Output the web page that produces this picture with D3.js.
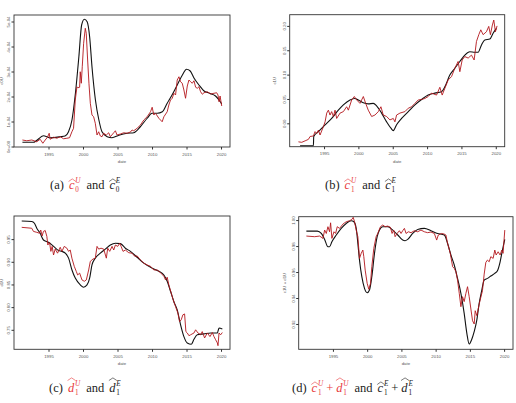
<!DOCTYPE html>
<html>
<head>
<meta charset="UTF-8">
<script src="https://d3js.org/d3.v7.min.js"></script>
<style>
  body { margin: 0; background: #fff; }
  .tick text { font-family: "Liberation Sans", Arial, sans-serif; fill: #555; }
  .lab { font-family: "Liberation Sans", Arial, sans-serif; fill: #555; }
  .cap { font-family: "Liberation Serif", "DejaVu Serif", serif; }
</style>
</head>
<body>
<div id="chart"></div>
<script>
// x axis (years) shared by all four panels
var yearTicks = [1995, 2000, 2005, 2010, 2015, 2020];

// (a) c0 estimates (values in units of 1e-04)
var c0Ticks = [0, 1, 2, 3, 4, 5];
var c0Labels = ["0e+00", "1e-04", "2e-04", "3e-04", "4e-04", "5e-04"];
var c0E = [[1991.22,0.17],[1992.8,0.17],[1994.3,0.43],[1994.8,0.39],[1995.2,0.35],[1996.7,0.39],[1997.4,0.42],[1997.9,0.59],[1998.4,1.06],[1998.9,2.13],[1999.4,3.59],[1999.8,4.86],[2000.2,5.09],[2000.6,4.99],[2000.96,4.39],[2001.3,3.19],[2001.8,1.86],[2002.3,1.06],[2002.75,0.59],[2003.5,0.39],[2004.2,0.35],[2005.2,0.45],[2006.4,0.53],[2007.35,0.55],[2008.3,0.79],[2009.3,1.13],[2010.0,1.33],[2010.75,1.33],[2011.5,1.39],[2012.2,1.73],[2012.9,2.06],[2013.65,2.46],[2014.4,2.86],[2015.0,3.09],[2015.5,3.03],[2016.1,2.73],[2016.8,2.46],[2017.5,2.23],[2018.3,2.13],[2019.2,2.02],[2019.7,1.86],[2020.1,1.70]];
var c0U = [[1991.22,0.26],[1991.85,0.23],[1992.58,0.26],[1993.30,0.19],[1993.79,0.29],[1994.18,0.13],[1994.52,0.26],[1994.85,0.37],[1995.10,0.53],[1995.24,0.29],[1995.73,0.37],[1996.21,0.33],[1996.70,0.39],[1997.18,0.31],[1997.66,0.33],[1998.05,0.35],[1998.39,0.59],[1998.63,0.73],[1998.88,1.86],[1999.12,2.39],[1999.26,2.35],[1999.51,2.37],[1999.60,2.99],[1999.75,2.53],[1999.89,3.19],[2000.09,4.13],[2000.33,4.73],[2000.47,4.53],[2000.67,3.46],[2000.86,2.53],[2001.06,1.73],[2001.30,1.26],[2001.54,1.19],[2001.78,0.93],[2002.03,0.46],[2002.27,0.59],[2002.51,0.42],[2002.75,0.39],[2002.99,0.53],[2003.38,0.46],[2003.72,0.55],[2003.96,0.39],[2004.45,0.55],[2004.69,0.63],[2004.93,0.46],[2005.42,0.50],[2005.90,0.55],[2006.39,0.53],[2006.87,0.58],[2007.11,0.66],[2007.35,0.63],[2007.84,0.73],[2008.32,0.86],[2008.81,1.06],[2009.29,1.19],[2009.78,1.39],[2010.02,1.57],[2010.26,1.26],[2010.50,1.33],[2010.99,1.13],[2011.47,0.99],[2011.72,1.19],[2012.20,1.39],[2012.44,1.66],[2012.68,1.86],[2012.93,1.93],[2013.17,2.13],[2013.41,2.06],[2013.65,2.66],[2013.90,2.79],[2014.14,2.59],[2014.38,2.53],[2014.62,2.26],[2014.86,1.93],[2015.11,2.42],[2015.35,2.66],[2015.59,2.59],[2015.83,2.53],[2016.08,2.63],[2016.32,2.37],[2016.56,2.33],[2016.80,2.39],[2017.04,2.19],[2017.29,2.09],[2017.53,2.15],[2018.01,2.19],[2018.50,2.10],[2018.98,2.13],[2019.37,2.15],[2019.56,2.06],[2019.71,1.79],[2019.86,2.02],[2020.10,1.62]];

// (b) c1 estimates
var c1Ticks = [0.00, 0.05, 0.10, 0.15, 0.20];
var c1Labels = ["0.00", "0.05", "0.10", "0.15", "0.20"];
var c1E = [[1991.51,-0.046],[1993.45,-0.046],[1993.50,-0.027],[1994.18,-0.017],[1995.15,-0.003],[1996.11,0.010],[1997.08,0.027],[1997.81,0.038],[1998.78,0.048],[1999.5,0.051],[1999.99,0.048],[2000.72,0.042],[2001.44,0.040],[2002.17,0.041],[2002.65,0.036],[2003.38,0.021],[2004.11,0.003],[2004.74,-0.010],[2005.08,-0.015],[2005.56,-0.003],[2006.29,0.010],[2007.26,0.024],[2008.23,0.038],[2009.20,0.049],[2010.16,0.058],[2011.13,0.062],[2012.10,0.065],[2012.59,0.075],[2013.31,0.099],[2014.04,0.113],[2014.77,0.127],[2015.49,0.140],[2016.22,0.147],[2016.95,0.146],[2017.43,0.146],[2017.92,0.161],[2018.40,0.171],[2019.13,0.173],[2019.61,0.185],[2020.10,0.195]];
var c1U = [[1991.27,-0.038],[1991.75,-0.039],[1992.24,-0.036],[1992.72,-0.033],[1992.97,-0.027],[1993.45,-0.026],[1993.69,-0.017],[1993.93,-0.021],[1994.18,-0.014],[1994.42,-0.024],[1994.90,-0.007],[1995.15,0.003],[1995.39,0.021],[1995.63,0.027],[1995.87,0.017],[1996.11,0.024],[1996.36,0.014],[1996.60,0.027],[1996.84,0.010],[1997.33,0.021],[1997.81,0.024],[1998.29,0.034],[1998.54,0.027],[1999.02,0.048],[1999.41,0.055],[1999.75,0.048],[2000.23,0.041],[2000.72,0.055],[2001.06,0.041],[2001.44,0.027],[2001.93,0.014],[2002.41,0.017],[2002.90,0.024],[2003.28,0.034],[2003.62,0.017],[2004.11,0.014],[2004.59,0.007],[2005.08,0.010],[2005.32,0.003],[2005.56,0.017],[2006.05,0.021],[2006.77,0.024],[2007.26,0.031],[2007.74,0.034],[2008.23,0.041],[2008.71,0.048],[2009.20,0.049],[2009.68,0.051],[2010.16,0.055],[2010.65,0.062],[2011.38,0.058],[2011.86,0.074],[2012.20,0.058],[2012.59,0.072],[2013.07,0.089],[2013.56,0.096],[2014.04,0.113],[2014.52,0.127],[2014.77,0.106],[2015.11,0.130],[2015.49,0.137],[2015.98,0.134],[2016.46,0.140],[2016.85,0.130],[2017.19,0.168],[2017.53,0.182],[2017.82,0.192],[2018.16,0.182],[2018.64,0.188],[2018.98,0.199],[2019.22,0.182],[2019.51,0.202],[2019.71,0.212],[2019.95,0.188],[2020.19,0.200]];

// (c) d1 estimates
var d1Ticks = [0.75, 0.80, 0.85, 0.90, 0.95];
var d1Labels = ["0.75", "0.80", "0.85", "0.90", "0.95"];
var d1E = [[1991.12,0.990],[1992.57,0.989],[1992.96,0.985],[1993.30,0.974],[1993.79,0.963],[1994.27,0.948],[1995.0,0.943],[1995.73,0.934],[1996.46,0.925],[1996.94,0.923],[1997.43,0.919],[1997.91,0.908],[1998.40,0.882],[1998.88,0.864],[1999.61,0.849],[2000.09,0.844],[2000.58,0.849],[2000.96,0.864],[2001.30,0.893],[2001.78,0.908],[2002.51,0.919],[2003.24,0.928],[2003.96,0.937],[2004.69,0.941],[2005.42,0.940],[2006.14,0.930],[2006.87,0.923],[2007.84,0.910],[2008.81,0.897],[2010.02,0.886],[2010.99,0.879],[2011.72,0.871],[2012.20,0.857],[2012.68,0.835],[2013.17,0.812],[2013.65,0.794],[2014.14,0.761],[2014.62,0.735],[2015.11,0.721],[2015.69,0.718],[2016.08,0.729],[2016.56,0.739],[2017.53,0.741],[2018.50,0.743],[2019.47,0.743],[2019.71,0.754],[2020.19,0.752]];
var d1U = [[1991.12,0.976],[1992.57,0.974],[1992.82,0.967],[1993.30,0.965],[1993.69,0.963],[1993.88,0.970],[1994.08,0.957],[1994.27,0.967],[1994.52,0.969],[1994.76,0.956],[1994.90,0.937],[1995.15,0.943],[1995.34,0.923],[1995.53,0.934],[1995.73,0.915],[1995.97,0.928],[1996.31,0.919],[1996.70,0.932],[1996.94,0.923],[1997.28,0.934],[1997.66,0.930],[1997.91,0.923],[1998.15,0.926],[1998.39,0.908],[1998.73,0.890],[1999.02,0.879],[1999.22,0.871],[1999.51,0.875],[1999.85,0.860],[2000.19,0.857],[2000.48,0.860],[2000.82,0.882],[2001.06,0.901],[2001.44,0.906],[2001.78,0.908],[2002.03,0.934],[2002.27,0.928],[2002.61,0.930],[2003.00,0.928],[2003.38,0.908],[2003.58,0.930],[2003.87,0.923],[2004.21,0.934],[2004.45,0.926],[2004.69,0.937],[2005.03,0.934],[2005.32,0.941],[2005.52,0.934],[2005.80,0.923],[2006.14,0.926],[2006.63,0.920],[2007.11,0.919],[2007.50,0.912],[2007.84,0.913],[2008.32,0.904],[2008.81,0.897],[2009.29,0.893],[2009.78,0.890],[2010.26,0.882],[2010.75,0.882],[2011.23,0.876],[2011.72,0.868],[2011.96,0.860],[2012.20,0.866],[2012.44,0.849],[2012.78,0.831],[2013.07,0.816],[2013.41,0.801],[2013.75,0.787],[2013.99,0.768],[2014.23,0.772],[2014.47,0.783],[2014.72,0.785],[2014.91,0.746],[2015.11,0.743],[2015.35,0.737],[2015.59,0.739],[2016.08,0.743],[2016.32,0.750],[2016.66,0.743],[2017.04,0.739],[2017.28,0.746],[2017.62,0.732],[2018.01,0.743],[2018.40,0.735],[2018.74,0.744],[2018.98,0.735],[2019.22,0.728],[2019.47,0.721],[2019.56,0.715],[2019.71,0.743],[2019.95,0.739],[2020.19,0.744]];

// (d) c1 + d1 estimates
var sumTicks = [0.92, 0.94, 0.96, 0.98, 1.00];
var sumLabels = ["0.92", "0.94", "0.96", "0.98", "1.00"];
var sumE = [[1991.12,0.9915],[1992.72,0.9915],[1993.30,0.9897],[1993.79,0.9851],[1994.27,0.9795],[1994.51,0.9795],[1994.85,0.9833],[1995.49,0.9885],[1996.21,0.9936],[1996.94,0.9974],[1997.67,0.9995],[1998.06,0.9987],[1998.40,0.9936],[1998.64,0.9820],[1998.88,0.9692],[1999.22,0.9564],[1999.61,0.9474],[2000.0,0.9441],[2000.34,0.9462],[2000.68,0.9564],[2001.07,0.9744],[2001.46,0.9872],[2001.80,0.9923],[2002.28,0.9949],[2003.01,0.9949],[2003.74,0.9923],[2004.47,0.9885],[2005.19,0.9846],[2005.53,0.9841],[2005.92,0.9851],[2006.65,0.9897],[2007.38,0.9928],[2008.35,0.9936],[2009.32,0.9918],[2010.29,0.9897],[2011.26,0.9885],[2011.75,0.9820],[2012.23,0.9731],[2012.72,0.9654],[2013.20,0.9551],[2013.69,0.9436],[2014.17,0.9282],[2014.56,0.9128],[2014.90,0.9046],[2015.24,0.9077],[2015.63,0.9141],[2016.02,0.9231],[2016.36,0.9359],[2016.70,0.9449],[2017.09,0.9538],[2017.57,0.9551],[2018.06,0.9569],[2018.64,0.9590],[2019.03,0.9610],[2019.42,0.9679],[2019.76,0.9769],[2020.10,0.9851]];
var sumU = [[1991.12,0.9877],[1992.33,0.9872],[1993.06,0.9877],[1993.54,0.9859],[1993.79,0.9923],[1994.03,0.9897],[1994.27,0.9949],[1994.51,0.9910],[1994.66,0.9979],[1994.85,0.9859],[1995.15,0.9910],[1995.39,0.9897],[1995.63,0.9949],[1995.97,0.9936],[1996.46,0.9969],[1996.94,0.9987],[1997.43,0.9995],[1997.77,1.0005],[1997.96,1.0021],[1998.16,0.9987],[1998.40,0.9923],[1998.64,0.9872],[1998.88,0.9705],[1999.13,0.9744],[1999.37,0.9769],[1999.51,0.9718],[1999.71,0.9615],[2000.00,0.9513],[2000.24,0.9467],[2000.49,0.9513],[2000.68,0.9641],[2000.97,0.9782],[2001.31,0.9872],[2001.55,0.9897],[2001.94,0.9949],[2002.28,0.9962],[2002.62,0.9949],[2003.01,0.9954],[2003.40,0.9944],[2003.64,0.9897],[2003.88,0.9923],[2004.08,0.9872],[2004.37,0.9897],[2004.71,0.9918],[2004.95,0.9897],[2005.19,0.9918],[2005.44,0.9936],[2005.68,0.9897],[2006.02,0.9910],[2006.41,0.9903],[2006.89,0.9918],[2007.38,0.9910],[2007.86,0.9923],[2008.35,0.9910],[2008.83,0.9903],[2009.32,0.9908],[2009.81,0.9897],[2010.15,0.9846],[2010.39,0.9885],[2010.87,0.9897],[2011.26,0.9892],[2011.50,0.9885],[2011.75,0.9820],[2012.14,0.9744],[2012.48,0.9641],[2012.72,0.9628],[2012.96,0.9603],[2013.20,0.9538],[2013.45,0.9436],[2013.69,0.9333],[2013.93,0.9410],[2014.17,0.9372],[2014.42,0.9436],[2014.66,0.9487],[2014.90,0.9410],[2015.15,0.9315],[2015.39,0.9225],[2015.63,0.9200],[2015.78,0.9302],[2016.02,0.9264],[2016.36,0.9353],[2016.60,0.9405],[2016.84,0.9456],[2017.09,0.9584],[2017.33,0.9674],[2017.57,0.9692],[2017.82,0.9679],[2018.06,0.9718],[2018.40,0.9705],[2018.64,0.9769],[2018.84,0.9731],[2019.13,0.9756],[2019.42,0.9731],[2019.66,0.9769],[2019.85,0.9744],[2020.10,0.9923]];

var red = "#b3161c", capRed = "#e8393c";

var svg = d3.select("#chart").append("svg")
    .attr("width", 516).attr("height", 403)
    .style("background", "#fff");

function panel(p) {
  var x = d3.scaleLinear().domain([1990.0, 2021.3]).range([p.left, p.right]);
  var y = d3.scaleLinear().domain(p.yDomain).range([p.bottom, p.top]);
  var g = svg.append("g");

  // x axis
  var xa = g.append("g")
      .attr("transform", "translate(0," + p.bottom + ")")
      .call(d3.axisBottom(x).tickValues(yearTicks).tickFormat(d3.format("d")).tickSize(2.5).tickSizeOuter(0).tickPadding(3));
  xa.selectAll("text").style("font-size", "4.3px");
  xa.select(".domain").remove();
  xa.selectAll("line").attr("stroke", "#333");

  // y axis, labels parallel to axis like R
  var ya = g.append("g")
      .attr("transform", "translate(" + p.left + ",0)")
      .call(d3.axisLeft(y).tickValues(p.yTicks).tickFormat(function(d, i) { return p.yLabels[i]; }).tickSize(2.5).tickSizeOuter(0));
  ya.select(".domain").remove();
  ya.selectAll("line").attr("stroke", "#333");
  ya.selectAll("text")
      .attr("transform", "rotate(-90)")
      .attr("x", 0).attr("y", -4.2).attr("dy", 0)
      .style("text-anchor", "middle")
      .style("font-size", "4.3px");

  // axis titles
  g.append("text").attr("class", "lab")
      .attr("x", (p.left + p.right) / 2).attr("y", p.bottom + 16)
      .attr("text-anchor", "middle").style("font-size", "4.3px")
      .text("date");
  g.append("text").attr("class", "lab")
      .attr("transform", "translate(" + p.ylabX + "," + (p.top + p.bottom) / 2 + ") rotate(-90)")
      .attr("text-anchor", "middle").style("font-size", "4.3px")
      .text(p.ylab);

  var line = d3.line().x(function(d) { return x(d[0]); }).y(function(d) { return y(d[1]); });

  g.append("path").datum(p.est)
      .attr("fill", "none").attr("stroke", "#111").attr("stroke-width", 1.1)
      .attr("d", line.curve(d3.curveMonotoneX));
  g.append("path").datum(p.unb)
      .attr("fill", "none").attr("stroke", red).attr("stroke-width", 0.9)
      .attr("stroke-linejoin", "round")
      .attr("d", line.curve(d3.curveLinear));

  // box
  g.append("rect")
      .attr("x", p.left).attr("y", p.top)
      .attr("width", p.right - p.left).attr("height", p.bottom - p.top)
      .attr("fill", "none").attr("stroke", "#333").attr("stroke-width", 0.9);
}

panel({ left: 14, right: 230, top: 15, bottom: 147, yDomain: [-0.02, 5.26],
        yTicks: c0Ticks, yLabels: c0Labels, ylab: "c0U", ylabX: 3, est: c0E, unb: c0U });
panel({ left: 289.7, right: 504.7, top: 14.7, bottom: 146.7, yDomain: [-0.048, 0.223],
        yTicks: c1Ticks, yLabels: c1Labels, ylab: "c1U", ylabX: 276, est: c1E, unb: c1U });
panel({ left: 14, right: 230, top: 216, bottom: 349.3, yDomain: [0.707, 1.001],
        yTicks: d1Ticks, yLabels: d1Labels, ylab: "d1U", ylabX: 3, est: d1E, unb: d1U });
panel({ left: 298.7, right: 513, top: 216.7, bottom: 349.3, yDomain: [0.9005, 1.0026],
        yTicks: sumTicks, yLabels: sumLabels, ylab: "c1U + d1U", ylabX: 286, est: sumE, unb: sumU });

// captions with hatted symbols; superscript and subscript stacked after the symbol
function caption(x0, y0, parts) {
  var g = svg.append("g").attr("class", "cap");
  var cx = x0;
  parts.forEach(function(p) {
    if (p.gap) { cx += p.gap; return; }
    var col = p.red ? capRed : "#222";
    if (p.text) {
      var t = g.append("text").attr("x", cx).attr("y", y0)
          .style("font-size", "12.5px").attr("fill", col).text(p.text);
      cx += t.node().getComputedTextLength();
      return;
    }
    var s = g.append("text").attr("x", cx).attr("y", y0)
        .style("font-size", "12.5px").style("font-style", "italic")
        .attr("fill", col).text(p.sym);
    var w = s.node().getComputedTextLength();
    var hy = p.sym === "d" ? y0 - 11.5 : y0 - 7.5;
    g.append("path")
        .attr("d", "M" + (cx - 0.3) + "," + hy + "L" + (cx + w / 2 + 0.6) + "," + (hy - 2.6) + "L" + (cx + w + 1.4) + "," + hy)
        .attr("fill", "none").attr("stroke", col).attr("stroke-width", 0.6);
    var sx = cx + w + 0.8;
    var sp = g.append("text").attr("x", sx).attr("y", y0 - 5.6)
        .style("font-size", "7.2px").style("font-style", "italic").attr("fill", col).text(p.sup);
    var sb = g.append("text").attr("x", sx).attr("y", y0 + 3)
        .style("font-size", "7.2px").attr("fill", col).text(p.sub);
    cx = sx + Math.max(sp.node().getComputedTextLength(), sb.node().getComputedTextLength());
  });
}

caption(50, 189, [{text: "(a)"}, {gap: 5}, {sym: "c", sup: "U", sub: "0", red: true}, {gap: 6},
                  {text: "and"}, {gap: 5}, {sym: "c", sup: "E", sub: "0"}]);
caption(325, 189, [{text: "(b)"}, {gap: 5}, {sym: "c", sup: "U", sub: "1", red: true}, {gap: 6},
                   {text: "and"}, {gap: 5}, {sym: "c", sup: "E", sub: "1"}]);
caption(49, 392, [{text: "(c)"}, {gap: 5}, {sym: "d", sup: "U", sub: "1", red: true}, {gap: 6},
                  {text: "and"}, {gap: 5}, {sym: "d", sup: "E", sub: "1"}]);
caption(292, 392, [{text: "(d)"}, {gap: 5}, {sym: "c", sup: "U", sub: "1", red: true}, {gap: 3},
                   {text: "+", red: true}, {gap: 3}, {sym: "d", sup: "U", sub: "1", red: true}, {gap: 6},
                   {text: "and"}, {gap: 5}, {sym: "c", sup: "E", sub: "1"}, {gap: 3},
                   {text: "+"}, {gap: 3}, {sym: "d", sup: "E", sub: "1"}]);
</script>
</body>
</html>
